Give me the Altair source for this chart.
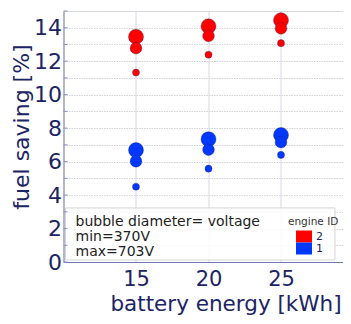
import altair as alt
import pandas as pd

# ---- data ----
energy = [15, 15, 15, 20, 20, 20, 25, 25, 25]
voltage = [703, 560, 370, 703, 560, 370, 703, 560, 370]
saving_engine2 = [13.46, 12.78, 11.32, 14.09, 13.51, 12.39, 14.45, 13.96, 13.08]
saving_engine1 = [6.69, 6.02, 4.50, 7.34, 6.71, 5.58, 7.59, 7.16, 6.40]
engine_ids = ["2", "1"]
engine_colors = ["#ff0000", "#0038ff"]

note_lines = ["bubble diameter= voltage", "min=370V", "max=703V"]
note_y = [2.39, 1.49, 0.60]
note_x = [10.83, 10.83, 10.83]
box_x = [10.14, 28.72]
box_y = [0.12, 3.23]
minor_ticks = list(range(0, 16))

NAVY = "#1c2463"
FONT = "DejaVu Sans"

rows = []
for e, v, s in zip(energy, voltage, saving_engine2):
    rows.append({"energy": e, "voltage": v, "saving": s, "engine": "2"})
for e, v, s in zip(energy, voltage, saving_engine1):
    rows.append({"energy": e, "voltage": v, "saving": s, "engine": "1"})
df = pd.DataFrame(rows).sort_values("voltage", ascending=False)

xscale = alt.Scale(domain=[10, 29.276], nice=False, zero=False)
yscale = alt.Scale(domain=[0, 15], nice=False, zero=False)

xaxis = alt.Axis(
    values=[15, 20, 25], title="battery energy [kWh]", grid=True,
    gridColor="#d6d6ea", gridWidth=1, ticks=False, tickSize=0,
    labelFontSize=21, labelColor=NAVY, labelFont=FONT, labelBaseline="alphabetic",
    labelPadding=23, domainColor="#6f77ad", domainWidth=1.2, labelOverlap=False,
    titleFontSize=21.5, titleColor=NAVY, titleFont=FONT, titleFontWeight="normal",
    titleX=162, titleY=48.5, titleBaseline="alphabetic", titleAlign="center",
)
yaxis = alt.Axis(
    values=minor_ticks, title="fuel saving [%]", grid=True,
    gridColor="#d2d2d8", gridDash=[1.5, 1], gridWidth=1, ticks=False, tickSize=0,
    labelExpr="datum.value % 2 == 0 ? datum.label : ''", labelOverlap=False,
    labelFontSize=22, labelColor=NAVY, labelFont=FONT, labelPadding=2,
    domainColor="#8a90c0", domainWidth=1.2,
    titleFontSize=22, titleColor=NAVY, titleFont=FONT, titleFontWeight="normal",
    titleAngle=270, titleX=-35.5, titleY=115.5, titleBaseline="alphabetic",
    titleAlign="center",
)

base_axes = alt.Chart(pd.DataFrame({"x": [15], "y": [0]})).mark_point(opacity=0).encode(
    x=alt.X("x:Q", scale=xscale, axis=xaxis),
    y=alt.Y("y:Q", scale=yscale, axis=yaxis),
)

box = alt.Chart(pd.DataFrame({"x": [box_x[0]], "x2": [box_x[1]], "y": [box_y[0]], "y2": [box_y[1]]})).mark_rect(
    fill="white", fillOpacity=0.85, stroke="#d4d4d4", strokeWidth=1
).encode(
    x=alt.X("x:Q", scale=xscale, axis=xaxis), x2="x2:Q",
    y=alt.Y("y:Q", scale=yscale, axis=yaxis), y2="y2:Q",
)

note = alt.Chart(pd.DataFrame({"x": note_x, "y": note_y, "t": note_lines})).mark_text(
    align="left", baseline="middle", fontSize=14, font=FONT, color="#222222"
).encode(
    x=alt.X("x:Q", scale=xscale, axis=xaxis), y=alt.Y("y:Q", scale=yscale, axis=yaxis), text="t:N"
)

ticks = alt.Chart(pd.DataFrame({"t": minor_ticks})).mark_rule(color="#8a90c0", strokeWidth=1).encode(
    x=alt.value(0), x2=alt.value(4), y=alt.Y("t:Q", scale=yscale, axis=yaxis)
)

points = alt.Chart(df).mark_circle(opacity=1, stroke="#2a2a60", strokeWidth=0.6, strokeOpacity=0.6).encode(
    x=alt.X("energy:Q", scale=xscale, axis=xaxis),
    y=alt.Y("saving:Q", scale=yscale, axis=yaxis),
    size=alt.Size("voltage:Q", scale=alt.Scale(type="pow", exponent=2, domain=[370, 703], range=[50, 227]), legend=None),
    color=alt.Color(
        "engine:N",
        scale=alt.Scale(domain=engine_ids, range=engine_colors),
        legend=alt.Legend(
            title="engine ID", orient="none", legendX=224.5, legendY=206,
            titleFontSize=10.5, titleFont=FONT, titleColor="#333333", titleFontWeight="normal",
            titlePadding=3,
            labelFontSize=11, labelFont=FONT, labelColor=NAVY, labelOffset=6,
            symbolType="M-1.333,-1H1.333V1H-1.333Z", symbolSize=144, symbolStrokeWidth=0,
            symbolOpacity=1, symbolOffset=10, rowPadding=0,
        ),
    ),
    order=alt.Order("voltage:Q", sort="descending"),
)

chart = alt.layer(base_axes, box, note, ticks, points).properties(
    width=279.5, height=251,
    autosize=alt.AutoSizeParams(type="none"),
    padding={"left": 55.5, "top": 3, "right": 0, "bottom": 54},
).configure_view(stroke="#c4c4d4", strokeWidth=1).configure(background="white")

chart.save("out.html", embed_options={"renderer": "svg", "actions": False})
